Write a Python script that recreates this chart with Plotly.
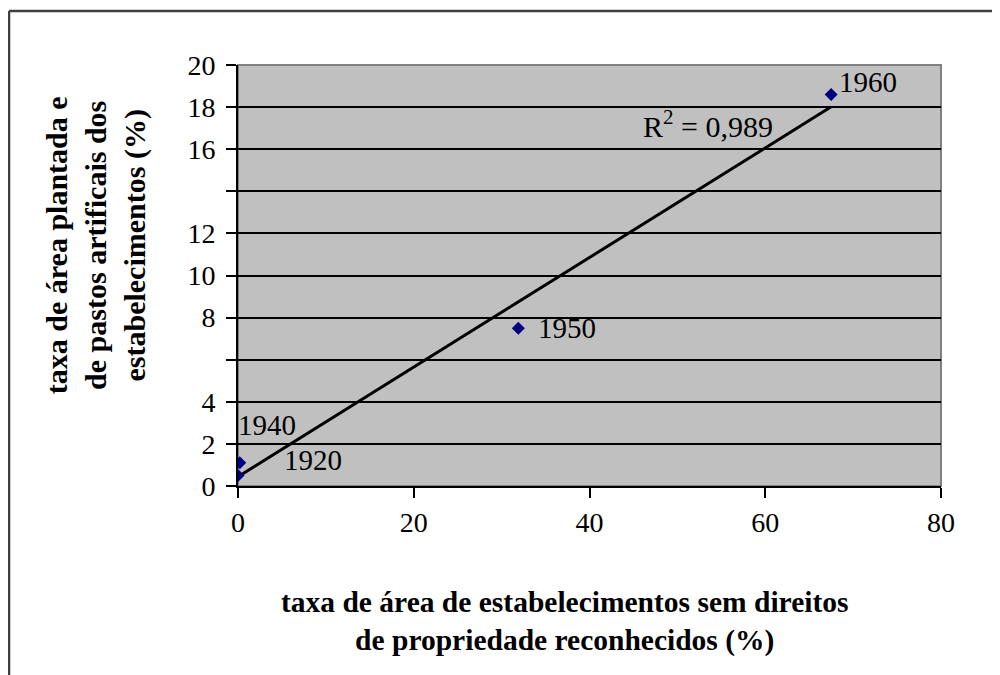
import numpy as np
import plotly.graph_objects as go

# Data
years = ["1920", "1940", "1950", "1960"]
x_vals = [0.0, 0.2, 31.9, 67.5]
y_vals = [0.5, 1.1, 7.5, 18.6]
r2_text = "R<sup>2</sup> = 0,989"
y_tickvals = [0, 2, 4, 6, 8, 10, 12, 14, 16, 18, 20]
y_ticktext = ["0", "2", "4", "", "8", "10", "12", "", "16", "18", "20"]
x_tickvals = [0, 20, 40, 60, 80]
x_title = "taxa de área de estabelecimentos sem direitos<br>de propriedade reconhecidos (%)"
y_title = "taxa de área plantada e<br>de pastos artificais dos<br>estabelecimentos (%)"

# Trend line from least squares fit
slope, intercept = np.polyfit(x_vals, y_vals, 1)
tx = [min(x_vals), max(x_vals)]
ty = [slope * v + intercept for v in tx]

SERIF = "Liberation Serif"

fig = go.Figure()
fig.add_trace(go.Scatter(x=tx, y=ty, mode="lines",
                         line=dict(color="black", width=3),
                         hoverinfo="skip", showlegend=False))
fig.add_trace(go.Scatter(x=x_vals, y=y_vals, mode="markers",
                         marker=dict(symbol="diamond", size=10, color="#000080"),
                         showlegend=False))

# Point labels
label_pos = {
    "1920": dict(xshift=44, yshift=15, xanchor="left", yanchor="middle"),
    "1940": dict(xshift=-4, yshift=38, xanchor="left", yanchor="middle"),
    "1950": dict(xshift=18, yshift=0, xanchor="left", yanchor="middle"),
    "1960": dict(xshift=6, yshift=12, xanchor="left", yanchor="middle"),
}
for yr, xv, yv in zip(years, x_vals, y_vals):
    fig.add_annotation(x=xv, y=yv, text=yr, showarrow=False,
                       font=dict(family=SERIF, size=29, color="black"),
                       **label_pos[yr])

fig.add_annotation(x=max(x_vals), y=ty[1], text=r2_text, showarrow=False,
                   xanchor="right", yanchor="top", xshift=-56, yshift=4,
                   font=dict(family=SERIF, size=30, color="black"))

# Axis titles
fig.add_annotation(xref="paper", yref="paper", x=0.465, y=0, yshift=-98,
                   xanchor="center", yanchor="top", text=x_title, showarrow=False,
                   font=dict(family=SERIF, size=29.5, color="black", weight="bold"),
                   align="center")
fig.add_annotation(xref="paper", yref="paper", x=0, y=0.572, xshift=-142,
                   xanchor="center", yanchor="middle", text=y_title, showarrow=False,
                   textangle=-90,
                   font=dict(family=SERIF, size=30, color="black", weight="bold"),
                   align="center")

# Plot area frame (gray) and outer border
fig.add_shape(type="rect", xref="paper", yref="paper", x0=0, y0=0, x1=1, y1=1,
              line=dict(color="#808080", width=2), fillcolor="rgba(0,0,0,0)",
              layer="below")
fig.add_shape(type="line", xref="paper", yref="paper",
              x0=-0.3257, y0=1.128, x1=1.2, y1=1.128,
              line=dict(color="#404040", width=2.5))
fig.add_shape(type="line", xref="paper", yref="paper",
              x0=-0.3257, y0=1.128, x1=-0.3257, y1=-0.6,
              line=dict(color="#404040", width=2.5))

fig.update_layout(
    width=1000, height=675,
    margin=dict(l=230, r=67, t=57, b=197),
    paper_bgcolor="white", plot_bgcolor="#c0c0c0",
    showlegend=False,
)
fig.update_xaxes(range=[0, 80], tickvals=x_tickvals, showgrid=False, zeroline=False,
                 showline=True, linecolor="black", linewidth=2,
                 ticks="outside", ticklen=10, tickwidth=2, tickcolor="black",
                 tickfont=dict(family=SERIF, size=28, color="black"),
                 ticklabelstandoff=0)
fig.update_yaxes(range=[0, 20], tickvals=y_tickvals, ticktext=y_ticktext,
                 showgrid=True, gridcolor="black", gridwidth=2, zeroline=False,
                 showline=True, linecolor="black", linewidth=2,
                 ticks="outside", ticklen=10, tickwidth=2, tickcolor="black",
                 tickfont=dict(family=SERIF, size=28, color="black"),
                 ticklabelstandoff=5)

fig.write_html("out.html")
